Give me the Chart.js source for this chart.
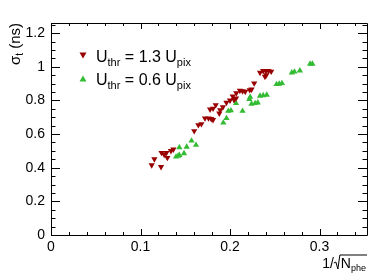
<!DOCTYPE html>
<html>
<head>
<meta charset="utf-8">
<script src="https://cdn.jsdelivr.net/npm/chart.js@4/dist/chart.umd.min.js"></script>
<style>
  html, body { margin: 0; padding: 0; background: #fff; }
  #wrap { width: 390px; height: 280px; position: relative; }
</style>
</head>
<body>
<div id="wrap"><canvas id="myChart"></canvas></div>
<script>
// donnees
const xTicks = [0, 0.1, 0.2, 0.3];
const yTicks = [0, 0.2, 0.4, 0.6, 0.8, 1, 1.2];

const redX = [0.1125, 0.1155, 0.1229, 0.1235, 0.1265, 0.130, 0.129, 0.134, 0.1367,
  0.160, 0.1646, 0.168, 0.172, 0.176, 0.179, 0.181, 0.1777, 0.181, 0.184, 0.188, 0.189,
  0.192, 0.196, 0.200, 0.2045, 0.2067, 0.203, 0.207, 0.211, 0.214, 0.217, 0.222, 0.224,
  0.227, 0.2335, 0.237, 0.240, 0.243, 0.246, 0.239, 0.2405];
const redY = [0.415, 0.451, 0.405, 0.489, 0.478, 0.459, 0.489, 0.500, 0.509,
  0.618, 0.654, 0.660, 0.694, 0.694, 0.690, 0.684, 0.747, 0.752, 0.773, 0.723, 0.743,
  0.760, 0.787, 0.800, 0.803, 0.813, 0.825, 0.843, 0.858, 0.855, 0.852, 0.862, 0.866,
  0.902, 0.965, 0.976, 0.975, 0.976, 0.972, 0.941, 0.950];

const greenX = [0.1397, 0.142, 0.1434, 0.1486, 0.1434, 0.1516, 0.157, 0.162,
  0.1925, 0.196, 0.198, 0.201, 0.2067, 0.214, 0.2216, 0.2225, 0.224, 0.228, 0.231,
  0.2335, 0.237, 0.241, 0.252, 0.255, 0.258, 0.269, 0.272, 0.278, 0.2894, 0.292];
const greenY = [0.465, 0.470, 0.475, 0.485, 0.521, 0.524, 0.560, 0.535,
  0.667, 0.694, 0.737, 0.740, 0.783, 0.737, 0.807, 0.820, 0.779, 0.783, 0.787,
  0.827, 0.830, 0.833, 0.896, 0.898, 0.902, 0.965, 0.970, 0.977, 1.017, 1.017];

const redColor = '#990000';
const greenColor = '#33bb33';
const fontName = '"Liberation Sans", Arial, sans-serif';

let toPoints = (xs, ys) => xs.map((x, i) => ({ x: x, y: ys[i] }));

// cadre, graduations, legende et titres facon ROOT
const rootStyle = {
  id: 'rootStyle',
  afterDraw(chart) {
    const ctx = chart.ctx;
    const a = chart.chartArea;
    const sx = chart.scales.x, sy = chart.scales.y;
    ctx.save();
    ctx.strokeStyle = '#000';
    ctx.lineWidth = 1;
    ctx.beginPath();
    ctx.rect(Math.round(a.left) + 0.5, Math.round(a.top) + 0.5,
      Math.round(a.right - a.left), Math.round(a.bottom - a.top));
    ctx.stroke();

    // x ticks
    ctx.beginPath();
    for (let v = 0; v <= sx.max + 1e-9; v += 0.02) {
      const major = Math.abs(v * 10 - Math.round(v * 10)) < 1e-6;
      const len = major ? 6 : 3;
      const px = Math.round(sx.getPixelForValue(v)) + 0.5;
      ctx.moveTo(px, a.bottom); ctx.lineTo(px, a.bottom - len);
      ctx.moveTo(px, a.top); ctx.lineTo(px, a.top + len);
    }
    // y ticks
    for (let v = 0; v <= sy.max + 1e-9; v += 0.05) {
      const major = Math.abs(v * 5 - Math.round(v * 5)) < 1e-6;
      const len = major ? 9 : 4.5;
      const py = Math.round(sy.getPixelForValue(v)) + 0.5;
      ctx.moveTo(a.left, py); ctx.lineTo(a.left + len, py);
      ctx.moveTo(a.right, py); ctx.lineTo(a.right - len, py);
    }
    ctx.stroke();

    // legende
    const legend = [
      { color: redColor, down: true, val: '1.3', y: 56 },
      { color: greenColor, down: false, val: '0.6', y: 79 }
    ];
    legend.forEach(l => {
      ctx.fillStyle = l.color;
      ctx.beginPath();
      if (l.down) {
        ctx.moveTo(79.5, 52.5); ctx.lineTo(86.5, 52.5); ctx.lineTo(83, 58.5);
      } else {
        ctx.moveTo(79.5, 81.5); ctx.lineTo(86.5, 81.5); ctx.lineTo(83, 75.5);
      }
      ctx.closePath(); ctx.fill();
      ctx.fillStyle = '#000';
      ctx.textBaseline = 'alphabetic';
      ctx.textAlign = 'left';
      let x = 96;
      const base = l.y + 6;
      ctx.font = '16px ' + fontName;
      ctx.fillText('U', x, base); x += ctx.measureText('U').width;
      ctx.font = '11px ' + fontName;
      ctx.fillText('thr', x, base + 4); x += ctx.measureText('thr').width;
      ctx.font = '16px ' + fontName;
      const mid = ' = ' + l.val + ' U';
      ctx.fillText(mid, x, base); x += ctx.measureText(mid).width;
      ctx.font = '11px ' + fontName;
      ctx.fillText('pix', x, base + 4);
    });

    // titre axe y
    ctx.save();
    ctx.translate(20, 23);
    ctx.rotate(-Math.PI / 2);
    ctx.textAlign = 'left';
    ctx.font = '15px ' + fontName;
    const w1 = ctx.measureText('σ').width;
    ctx.font = '10px ' + fontName;
    const w2 = ctx.measureText('t').width;
    ctx.font = '15px ' + fontName;
    const w3 = ctx.measureText(' (ns)').width;
    let tx = -(w1 + w2 + w3);
    ctx.fillText('σ', tx, 0); tx += w1;
    ctx.font = '10px ' + fontName;
    ctx.fillText('t', tx, 3); tx += w2;
    ctx.font = '15px ' + fontName;
    ctx.fillText(' (ns)', tx, 0);
    ctx.restore();

    // titre axe x : 1/sqrt(N_phe)
    ctx.font = '14px ' + fontName;
    const base = 268;
    const wOne = ctx.measureText('1/').width;
    const wN = ctx.measureText('N').width;
    ctx.font = '9px ' + fontName;
    const wSub = ctx.measureText('phe').width;
    const total = wOne + 7 + wN + wSub + 1;
    let bx = a.right - total;
    ctx.font = '14px ' + fontName;
    ctx.fillText('1/', bx, base); bx += wOne;
    ctx.beginPath();
    ctx.moveTo(bx, base - 5); ctx.lineTo(bx + 2, base - 6);
    ctx.lineTo(bx + 4, base + 1); ctx.lineTo(bx + 6, base - 13);
    ctx.lineTo(a.right, base - 13);
    ctx.stroke();
    bx += 7;
    ctx.fillText('N', bx, base); bx += wN;
    ctx.font = '9px ' + fontName;
    ctx.fillText('phe', bx, base + 3);
    ctx.restore();
  }
};

let initChart = () => {
  const config = {
    type: 'scatter',
    data: {
      datasets: [
        {
          label: 'U_thr = 1.3 U_pix',
          data: toPoints(redX, redY),
          pointStyle: 'triangle',
          rotation: 180,
          radius: 3.6,
          backgroundColor: redColor,
          borderColor: redColor,
          borderWidth: 0
        },
        {
          label: 'U_thr = 0.6 U_pix',
          data: toPoints(greenX, greenY),
          pointStyle: 'triangle',
          radius: 3.6,
          backgroundColor: greenColor,
          borderColor: greenColor,
          borderWidth: 0
        }
      ]
    },
    options: {
      responsive: true,
      maintainAspectRatio: false,
      animation: false,
      layout: { padding: { top: 23, right: 23, left: 0, bottom: 0 } },
      plugins: { legend: { display: false }, tooltip: { enabled: false } },
      scales: {
        x: {
          type: 'linear',
          min: 0, max: 0.353,
          grid: { display: false, drawTicks: false },
          border: { display: false },
          afterFit: s => { s.height = 45; },
          afterBuildTicks: s => { s.ticks = xTicks.map(v => ({ value: v })); },
          ticks: {
            padding: 4,
            color: '#000',
            maxRotation: 0,
            font: { family: fontName, size: 14 },
            callback: v => String(v)
          }
        },
        y: {
          type: 'linear',
          min: 0, max: 1.26,
          grid: { display: false, drawTicks: false },
          border: { display: false },
          afterFit: s => { s.width = 51; },
          afterBuildTicks: s => { s.ticks = yTicks.map(v => ({ value: v })); },
          ticks: {
            padding: 6,
            color: '#000',
            font: { family: fontName, size: 14 },
            callback: v => String(v)
          }
        }
      }
    },
    plugins: [rootStyle]
  };
  new Chart(document.getElementById('myChart'), config);
};

initChart();
</script>
</body>
</html>
